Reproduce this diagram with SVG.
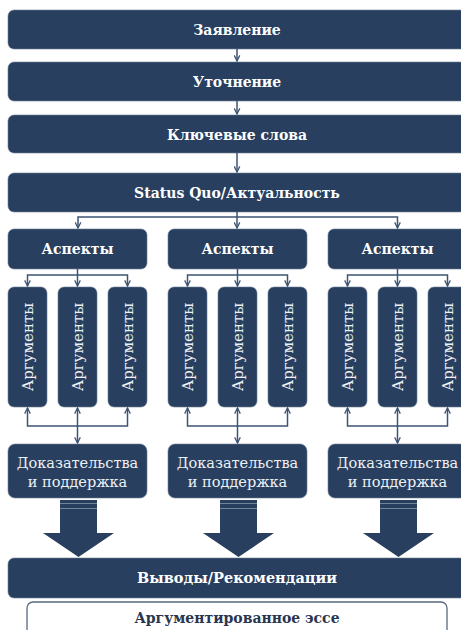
<svg xmlns="http://www.w3.org/2000/svg" width="461" height="630" viewBox="0 0 461 630">
<defs>
<style>
.box{fill:#283f5f;stroke:#6c7d93;stroke-width:0.6}
.h{font-family:"DejaVu Serif","Liberation Serif",serif;font-weight:bold;font-size:14px;fill:#ffffff;text-anchor:middle}
.arg{font-family:"DejaVu Serif","Liberation Serif",serif;font-size:15px;fill:#eef1f4;text-anchor:middle}
.ev{font-family:"DejaVu Serif","Liberation Serif",serif;font-size:14.5px;fill:#eef1f4;text-anchor:middle}
.ln{fill:none;stroke:#3d5473;stroke-width:1.5}
.big{fill:#283f5f}
.stripe{stroke:#6f8597;stroke-width:1}
</style>
<marker id="ah" viewBox="0 0 10 10" refX="9" refY="5" markerWidth="7" markerHeight="7" markerUnits="userSpaceOnUse" orient="auto-start-reverse">
<path d="M1,1 L9,5 L1,9" fill="none" stroke="#3d5473" stroke-width="1.8"/>
</marker>
</defs>
<rect width="461" height="630" fill="#ffffff"/>

<g id="n-zayavlenie"><rect class="box" x="8" y="10" width="458" height="39" rx="6"/><text class="h" x="237" y="34.5">Заявление</text></g>
<g id="n-utochnenie"><rect class="box" x="8" y="62" width="458" height="39" rx="6"/><text class="h" x="237" y="86.5">Уточнение</text></g>
<g id="n-klyuch"><rect class="box" x="8" y="115" width="458" height="38" rx="6"/><text class="h" x="237" y="139.5">Ключевые слова</text></g>
<g id="n-status"><rect class="box" x="8" y="173" width="458" height="39" rx="6"/><text class="h" x="237" y="197.5">Status Quo/Актуальность</text></g>

<g id="n-aspect1"><rect class="box" x="8" y="229" width="139" height="40" rx="6"/><text class="h" x="77.5" y="254">Аспекты</text></g>
<g id="n-aspect2"><rect class="box" x="168" y="229" width="139" height="40" rx="6"/><text class="h" x="237.5" y="254">Аспекты</text></g>
<g id="n-aspect3"><rect class="box" x="328" y="229" width="139" height="40" rx="6"/><text class="h" x="397.5" y="254">Аспекты</text></g>

<g id="n-arg1a"><rect class="box" x="8" y="287" width="39" height="120" rx="6"/><text class="arg" transform="translate(32.5,347) rotate(-90)">Аргументы</text></g>
<g id="n-arg1b"><rect class="box" x="58" y="287" width="39" height="120" rx="6"/><text class="arg" transform="translate(82.5,347) rotate(-90)">Аргументы</text></g>
<g id="n-arg1c"><rect class="box" x="108" y="287" width="39" height="120" rx="6"/><text class="arg" transform="translate(132.5,347) rotate(-90)">Аргументы</text></g>
<g id="n-arg2a"><rect class="box" x="168" y="287" width="39" height="120" rx="6"/><text class="arg" transform="translate(192.5,347) rotate(-90)">Аргументы</text></g>
<g id="n-arg2b"><rect class="box" x="218" y="287" width="39" height="120" rx="6"/><text class="arg" transform="translate(242.5,347) rotate(-90)">Аргументы</text></g>
<g id="n-arg2c"><rect class="box" x="268" y="287" width="39" height="120" rx="6"/><text class="arg" transform="translate(292.5,347) rotate(-90)">Аргументы</text></g>
<g id="n-arg3a"><rect class="box" x="328" y="287" width="39" height="120" rx="6"/><text class="arg" transform="translate(352.5,347) rotate(-90)">Аргументы</text></g>
<g id="n-arg3b"><rect class="box" x="378" y="287" width="39" height="120" rx="6"/><text class="arg" transform="translate(402.5,347) rotate(-90)">Аргументы</text></g>
<g id="n-arg3c"><rect class="box" x="428" y="287" width="39" height="120" rx="6"/><text class="arg" transform="translate(452.5,347) rotate(-90)">Аргументы</text></g>

<g id="n-ev1"><rect class="box" x="8" y="444" width="139" height="54" rx="7"/><text class="ev" x="77.5" y="468">Доказательства</text><text class="ev" x="77.5" y="487">и поддержка</text></g>
<g id="n-ev2"><rect class="box" x="168" y="444" width="139" height="54" rx="7"/><text class="ev" x="237.5" y="468">Доказательства</text><text class="ev" x="237.5" y="487">и поддержка</text></g>
<g id="n-ev3"><rect class="box" x="328" y="444" width="139" height="54" rx="7"/><text class="ev" x="397.5" y="468">Доказательства</text><text class="ev" x="397.5" y="487">и поддержка</text></g>

<g id="n-vyvody"><rect class="box" x="8" y="558" width="458" height="40" rx="6"/><text class="h" x="237" y="583" style="font-size:14.5px">Выводы/Рекомендации</text></g>
<g id="n-esse"><rect x="27" y="602" width="420" height="40" rx="6" fill="#ffffff" stroke="#5a6a80" stroke-width="1.3"/><text class="h" x="237" y="622.5" style="fill:#2a3650">Аргументированное эссе</text></g>

<g id="connectors">
<path class="ln" d="M237,49 V61" marker-end="url(#ah)"/>
<path class="ln" d="M237,101 V114" marker-end="url(#ah)"/>
<path class="ln" d="M237,153 V172" marker-end="url(#ah)"/>
<path class="ln" d="M237,212 V228" marker-end="url(#ah)"/>
<path class="ln" d="M78,228 V217 H397.5 V228" marker-start="url(#ah)" marker-end="url(#ah)"/>

<path class="ln" d="M77.5,269 V286" marker-end="url(#ah)"/>
<path class="ln" d="M27.5,286 V275 H127.5 V286" marker-start="url(#ah)" marker-end="url(#ah)"/>
<path class="ln" d="M237.5,269 V286" marker-end="url(#ah)"/>
<path class="ln" d="M187.5,286 V275 H287.5 V286" marker-start="url(#ah)" marker-end="url(#ah)"/>
<path class="ln" d="M397.5,269 V286" marker-end="url(#ah)"/>
<path class="ln" d="M347.5,286 V275 H447.5 V286" marker-start="url(#ah)" marker-end="url(#ah)"/>

<path class="ln" d="M27.5,408 V426 H127.5 V408" marker-start="url(#ah)" marker-end="url(#ah)"/>
<path class="ln" d="M77.5,408 V443" marker-start="url(#ah)" marker-end="url(#ah)"/>
<path class="ln" d="M187.5,408 V426 H287.5 V408" marker-start="url(#ah)" marker-end="url(#ah)"/>
<path class="ln" d="M237.5,408 V443" marker-start="url(#ah)" marker-end="url(#ah)"/>
<path class="ln" d="M347.5,408 V426 H447.5 V408" marker-start="url(#ah)" marker-end="url(#ah)"/>
<path class="ln" d="M397.5,408 V443" marker-start="url(#ah)" marker-end="url(#ah)"/>

<g id="bigarrows">
<path class="big" d="M60,500 H97 V533 H114 L78.5,557 L43,533 H60 Z"/>
<line class="stripe" x1="60" y1="503.5" x2="97" y2="503.5"/><line class="stripe" x1="60" y1="508.5" x2="97" y2="508.5"/>
<path class="big" d="M220,500 H257 V533 H274 L238.5,557 L203,533 H220 Z"/>
<line class="stripe" x1="220" y1="503.5" x2="257" y2="503.5"/><line class="stripe" x1="220" y1="508.5" x2="257" y2="508.5"/>
<path class="big" d="M380,500 H417 V533 H434 L398.5,557 L363,533 H380 Z"/>
<line class="stripe" x1="380" y1="503.5" x2="417" y2="503.5"/><line class="stripe" x1="380" y1="508.5" x2="417" y2="508.5"/>
</g>
</g>
</svg>
